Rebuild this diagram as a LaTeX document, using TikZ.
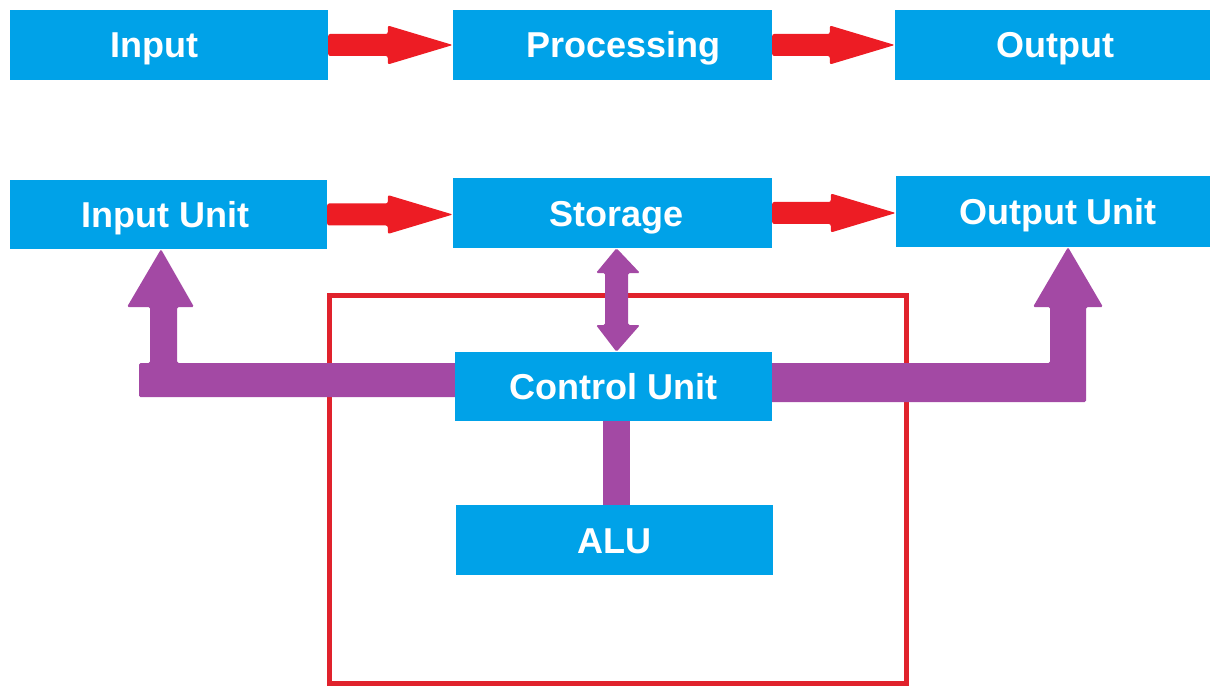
\documentclass[tikz,border=0pt]{standalone}
\usepackage{fontspec}
\setmainfont{Liberation Sans}
\usetikzlibrary{calc,backgrounds}
\definecolor{boxblue}{HTML}{00A2E8}
\definecolor{arrred}{HTML}{ED1C24}
\definecolor{framered}{HTML}{E0222C}
\definecolor{barpurple}{HTML}{A349A4}
\newcommand\redblockarrow[2]{%
  \coordinate (bah) at ($(#2)!65pt!(#1)$);
  \fill[arrred, rounded corners=2pt]
    ($(#1)!11pt!90:(#2)$) -- ($(bah)!11pt!90:(#2)$) -- ($(bah)!19.5pt!90:(#2)$)
    -- (#2) -- ($(bah)!19.5pt!-90:(#2)$) -- ($(bah)!11pt!-90:(#2)$)
    -- ($(#1)!11pt!-90:(#2)$) -- cycle;}
\begin{document}
\begin{tikzpicture}[x=1pt,y=-1pt,
  box/.style={fill=boxblue, text=white, inner sep=0pt,
    font=\bfseries\fontsize{36}{40}\selectfont,
    text height=26pt, text depth=0pt},
  purplefill/.style={fill=barpurple, rounded corners=1.5pt}]
\useasboundingbox (0,0) rectangle (1210,687);
% blocks
\node[box, minimum width=318pt, minimum height=70pt] (in)   at (169,45)     {\hspace*{-30pt}Input};
\node[box, minimum width=319pt, minimum height=70pt] (proc) at (612.5,45)   {Processing\hspace*{-22pt}};
\node[box, minimum width=315pt, minimum height=70pt] (out)  at (1052.5,45)  {Output\hspace*{-5pt}};
\node[box, minimum width=317pt, minimum height=69pt] (inu)  at (168.5,214.5){\hspace*{-6pt}Input Unit};
\node[box, minimum width=319pt, minimum height=70pt] (sto)  at (612.5,213)  {Storage\hspace*{-8pt}};
\node[box, minimum width=314pt, minimum height=71pt] (outu) at (1053,211.5) {Output Unit\hspace*{-10pt}};
\node[box, minimum width=317pt, minimum height=69pt] (cu)   at (613.5,386.5){Control Unit};
\node[box, minimum width=317pt, minimum height=70pt] (alu)  at (614.5,540)  {ALU};
% helper coordinates
\coordinate (r1s) at (in.east);
\coordinate (r1e) at (in.east -| proc.west);
\coordinate (r2s) at (proc.east);
\coordinate (r2e) at (proc.east -| out.west);
\coordinate (r3s) at (inu.east);
\coordinate (r3e) at (inu.east -| sto.west);
\coordinate (r4s) at (sto.east);
\coordinate (r4e) at (sto.east -| outu.west);
\coordinate (ltip) at (161,0 |- inu.south);
\coordinate (rtip) at (1068,0 |- outu.south);
\coordinate (dtop) at (616.5,0 |- sto.south);
\coordinate (dbot) at (616.5,0 |- cu.north);
\coordinate (abot) at (616.5,0 |- alu.center);
\coordinate (atop) at (616.5,0 |- cu.center);
% red arrows
\redblockarrow{r1s}{r1e}
\redblockarrow{r2s}{r2e}
\redblockarrow{r3s}{r3e}
\redblockarrow{r4s}{r4e}
\begin{pgfonlayer}{background}
  \draw[framered, line width=5pt] (329.5,295.5) rectangle (906.5,683.5);
  % left L arrow
  \fill[purplefill] (cu.center |- 0,363) -- (177,363) -- (177,307) -- (194,307)
    -- (ltip) -- (127,307) -- (150,307) -- (150,363) -- (139,363) -- (139,397)
    -- (cu.center |- 0,397) -- cycle;
  % right L arrow
  \fill[purplefill] (cu.center |- 0,363) -- (1050,363) -- (1050,307) -- (1033,307)
    -- (rtip) -- (1103,307) -- (1086,307) -- (1086,402)
    -- (cu.center |- 0,402) -- cycle;
  % double arrow storage <-> control unit
  \fill[purplefill] (dtop) -- (640,273) -- (628,273) -- (628,325) -- (640,325)
    -- (dbot) -- (596,325) -- (605,325) -- (605,273) -- (596,273) -- cycle;
  % control unit -- ALU
  \draw[barpurple, line width=27pt] (atop) -- (abot);
\end{pgfonlayer}
\end{tikzpicture}
\end{document}
